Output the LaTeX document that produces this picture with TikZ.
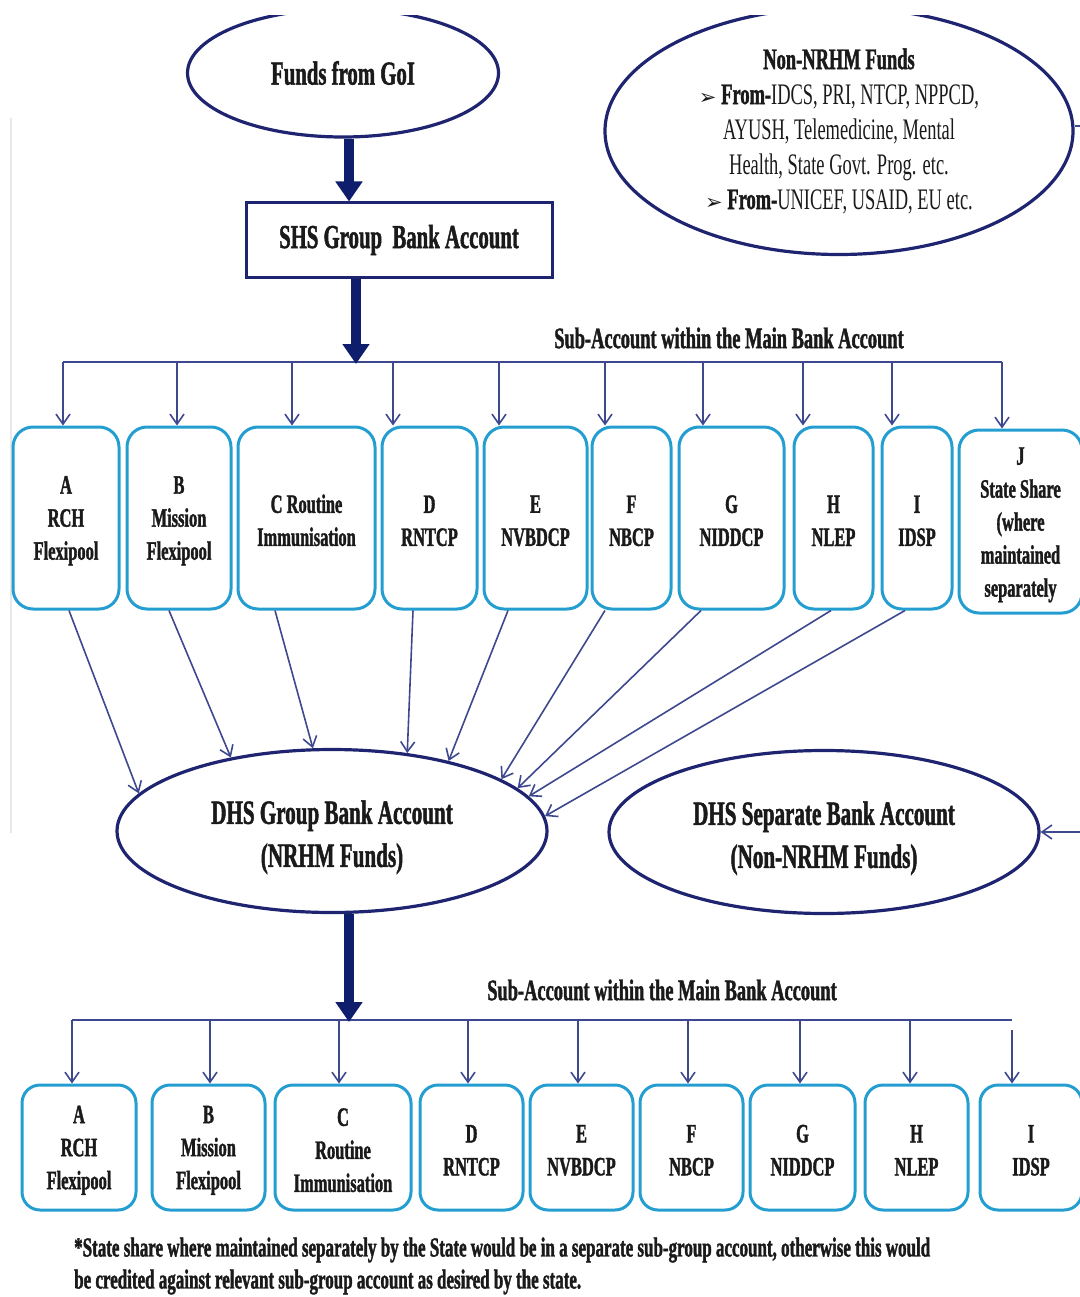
\documentclass[tikz,border=0pt]{standalone}
\usepackage{fontspec}
\setmainfont{Liberation Serif}[FakeStretch=0.62]
\newfontfamily\hb{Liberation Serif Bold}[FakeStretch=0.62, FakeBold=1.4]
\newfontfamily\symfont{DejaVu Sans}
\usetikzlibrary{arrows.meta,shapes.geometric,calc}

\definecolor{navy}{RGB}{30,36,112}
\definecolor{navydark}{RGB}{14,30,108}
\definecolor{slate}{RGB}{62,72,142}
\definecolor{boxblue}{RGB}{36,158,208}
\definecolor{ink}{RGB}{26,26,26}

% invisible strut that lowers a centred block of lines
\newcommand{\topstrut}[1]{\rule{0pt}{#1}}

\tikzset{
  ell/.style={ellipse, draw=navy, line width=3.2pt, inner sep=0pt, align=center, text=ink},
  bankbox/.style={rectangle, draw=navy, line width=3pt, inner sep=0pt, text=ink},
  tbox/.style={rectangle, draw=boxblue, line width=3pt, rounded corners=20pt,
    inner sep=0pt, align=center, minimum height=182pt, text=ink,
    font=\fontsize{26.5}{33}\selectfont\hb},
  bbox/.style={tbox, minimum height=125pt, rounded corners=18pt},
  thinarrow/.style={draw=slate, line width=1.6pt, -{Straight Barb[length=10pt,width=14pt]}},
  busline/.style={draw=slate, line width=1.8pt},
  thickarrow/.style={draw=navydark, line width=10pt, -{Triangle[length=20pt,width=26pt]}},
  sublabel/.style={text=ink, font=\fontsize{29.7}{32}\selectfont\hb},
}

\begin{document}
\begin{tikzpicture}[x=1pt,y=-1pt]
\useasboundingbox (0,0) rectangle (1079,1297);

% faint page rule on the left
\draw[gray!18, line width=2pt] (11,118) -- (11,833);

% top ellipses, cut by the upper margin
\begin{scope}
  \clip (0,16) rectangle (1079,1297);
  \node[ell, minimum width=311pt, minimum height=128pt,
        font=\fontsize{33.5}{40}\selectfont\hb] (fg) at (343,73) {Funds from GoI};
  \node[ell, minimum width=468pt, minimum height=247pt,
        font=\fontsize{29.8}{35}\selectfont] (nn) at (839,131)
    {{\hb Non-NRHM Funds}\\
     {\symfont\fontsize{21}{24}\selectfont ➢} {\hb From-}IDCS, PRI, NTCP, NPPCD,\\
     AYUSH, Telemedicine, Mental\\
     Health, State Govt. Prog. etc.\\
     {\symfont\fontsize{21}{24}\selectfont ➢} {\hb From-}UNICEF, USAID, EU etc.};
\end{scope}

% state bank account
\node[bankbox, minimum width=306pt, minimum height=74pt,
      font=\fontsize{33.5}{40}\selectfont\hb] (shs) at (399,240) {SHS Group\ \ Bank Account};

\coordinate (a1) at ([xshift=6pt]fg.south);
\draw[thickarrow] (a1) -- (a1 |- shs.north);

% first row of sub-accounts
\foreach \n/\x/\w/\t in {
  tA/66/106/{A\\RCH\\Flexipool},
  tB/179/104/{B\\Mission\\Flexipool},
  tC/306.5/137/{C Routine\\Immunisation},
  tD/429.5/95/{D\\RNTCP},
  tE/535.5/103/{E\\NVBDCP},
  tF/631.5/79/{F\\NBCP},
  tG/731.5/105/{G\\NIDDCP},
  tH/833.5/79/{H\\NLEP},
  tI/917/70/{I\\IDSP}}
  \node[tbox, minimum width=\w pt] (\n) at (\x,518) {\topstrut{23pt}\t};
\node[tbox, minimum width=123pt, minimum height=183pt] (tJ) at (1020.5,521.5)
  {\topstrut{24pt}J\\State Share\\(where\\maintained\\separately};

\node[sublabel] (lab1) at (729,338) {Sub-Account within the Main Bank Account};

\coordinate (busT) at (0,362);
\foreach \n/\dx in {tA/-3,tB/-2,tC/-14.5,tD/-36.5,tE/-36.5,tF/-26.5,tG/-28.5,tH/-30.5,tI/-25,tJ/-18.5}
  \coordinate (d\n) at ([xshift=\dx pt]\n.north);
\draw[busline] (dtA |- busT) -- (dtJ |- busT);
\foreach \n in {tA,tB,tC,tD,tE,tF,tG,tH,tI,tJ}
  \draw[thinarrow] (d\n |- busT) -- (d\n);

\coordinate (b1) at ([xshift=-43pt]shs.south);
\draw[thickarrow] (b1) -- ($(b1 |- busT)+(0,2)$);

% district accounts
\node[ell, minimum width=430pt, minimum height=163pt,
      font=\fontsize{34}{43}\selectfont\hb] (dg) at (332,831)
  {\topstrut{36pt}DHS Group Bank Account\\(NRHM Funds)};
\node[ell, minimum width=430pt, minimum height=163pt,
      font=\fontsize{34}{43}\selectfont\hb] (ds) at (824,832)
  {\topstrut{36pt}DHS Separate Bank Account\\(Non-NRHM Funds)};

% transfers from the state sub-accounts to the district group account
\foreach \n/\dx/\ang in {tA/3/169,tB/-10/144,tC/-31.5/103,tD/-16.5/46,tE/-27.5/31,
                          tF/-26.5/17,tG/-30.5/13,tH/-2.5/10,tI/-12/4}
  \draw[thinarrow] ([xshift=\dx pt]\n.south) -- (dg.\ang);

% non-NRHM funds routed to the separate account
\draw[thinarrow] ([yshift=5pt]nn.east) -- ++(40,0) |- (ds.east);

% second row of sub-accounts
\foreach \n/\x/\w/\t in {
  bA/79/114/{A\\RCH\\Flexipool},
  bB/208.5/113/{B\\Mission\\Flexipool},
  bC/343/136/{C\\Routine\\Immunisation},
  bD/471.5/103/{D\\RNTCP},
  bE/581.5/103/{E\\NVBDCP},
  bF/691.5/103/{F\\NBCP},
  bG/802.5/105/{G\\NIDDCP},
  bH/916.5/103/{H\\NLEP},
  bI/1031/102/{I\\IDSP}}
  \node[bbox, minimum width=\w pt] (\n) at (\x,1147.5) {\topstrut{23pt}\t};

\node[sublabel] (lab2) at (662,990) {Sub-Account within the Main Bank Account};

\coordinate (busB) at (0,1020);
\foreach \n/\dx in {bA/-7,bB/1.5,bC/-4,bD/-3.5,bE/-3.5,bF/-3.5,bG/-2.5,bH/-6.5,bI/-19}
  \coordinate (d\n) at ([xshift=\dx pt]\n.north);
\draw[busline] (dbA |- busB) -- (dbI |- busB);
\foreach \n in {bA,bB,bC,bD,bE,bF,bG,bH}
  \draw[thinarrow] (d\n |- busB) -- (d\n);
\draw[thinarrow] ($(dbI |- busB)+(0,10)$) -- (dbI);

\coordinate (c1) at ([xshift=17pt]dg.south);
\draw[thickarrow] (c1) -- ($(c1 |- busB)+(0,2)$);

% footnote
\node[anchor=west, align=left, text=ink, inner sep=0pt,
      font=\fontsize{27.4}{32}\selectfont\hb] (note) at (74,1266)
  {*State share where maintained separately by the State would be in a separate sub-group account, otherwise this would\\
   be credited against relevant sub-group account as desired by the state.};
\end{tikzpicture}
\end{document}
